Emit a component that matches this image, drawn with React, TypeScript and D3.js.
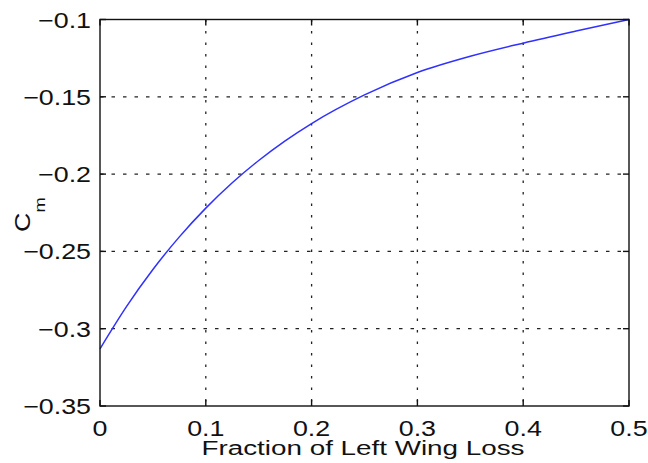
import React from "react";
import * as d3 from "d3";

const fractionLoss = [0, 0.025, 0.05, 0.075, 0.1, 0.125, 0.15, 0.175, 0.2, 0.25, 0.3, 0.35, 0.4, 0.45, 0.5];
const cmValues = [-0.313, -0.2857, -0.2617, -0.2406, -0.222, -0.2056, -0.1912, -0.1785, -0.1673, -0.1488, -0.1343, -0.1238, -0.1153, -0.1075, -0.1];
const xTicks = [0, 0.1, 0.2, 0.3, 0.4, 0.5];
const yTicks = [-0.35, -0.3, -0.25, -0.2, -0.15, -0.1];
const xTickLabels = ["0", "0.1", "0.2", "0.3", "0.4", "0.5"];
const yTickLabels = ["\u22120.35", "\u22120.3", "\u22120.25", "\u22120.2", "\u22120.15", "\u22120.1"];

const W = 648;
const H = 463;
const L = 100, R = 629, T = 19.5, B = 406;
const FONT = "'Liberation Sans', Arial, Helvetica, sans-serif";
const SX = 1.22;

export default function App() {
  const x = d3.scaleLinear().domain([0, 0.5]).range([L, R]);
  const y = d3.scaleLinear().domain([-0.35, -0.1]).range([B, T]);
  const line = d3
    .line<number>()
    .x((_, i) => x(fractionLoss[i]))
    .y((d) => y(d))
    .curve(d3.curveMonotoneX);
  const tickLen = 6;
  const gridColor = "#222";
  return (
    <svg width={W} height={H} style={{ position: "absolute", left: 0, top: 0, background: "#fff" }}>
      <rect x={0} y={0} width={W} height={H} fill="#fff" />
      {/* grid */}
      {xTicks.slice(1, -1).map((t) => (
        <line key={"gx" + t} x1={x(t)} x2={x(t)} y1={T} y2={B} stroke={gridColor} strokeWidth={1.3} strokeDasharray="2.5,9" />
      ))}
      {yTicks.slice(1, -1).map((t) => (
        <line key={"gy" + t} x1={L} x2={R} y1={y(t)} y2={y(t)} stroke={gridColor} strokeWidth={1.3} strokeDasharray="3.5,8" />
      ))}
      {/* curve */}
      <path d={line(cmValues) || ""} fill="none" stroke="#3030ff" strokeWidth={1.5} />
      {/* box */}
      <rect x={L} y={T} width={R - L} height={B - T} fill="none" stroke="#111" strokeWidth={1.4} />
      {/* ticks */}
      {xTicks.map((t) => (
        <g key={"tx" + t}>
          <line x1={x(t)} x2={x(t)} y1={B} y2={B - tickLen} stroke="#111" strokeWidth={1.4} />
          <line x1={x(t)} x2={x(t)} y1={T} y2={T + tickLen} stroke="#111" strokeWidth={1.4} />
        </g>
      ))}
      {yTicks.map((t) => (
        <g key={"ty" + t}>
          <line x1={L} x2={L + tickLen} y1={y(t)} y2={y(t)} stroke="#111" strokeWidth={1.4} />
          <line x1={R} x2={R - tickLen} y1={y(t)} y2={y(t)} stroke="#111" strokeWidth={1.4} />
        </g>
      ))}
      {/* x tick labels */}
      {xTicks.map((t, i) => (
        <g key={"lx" + t} transform={`translate(${x(t)},436) scale(${SX},1)`}>
          <text x={0} y={0} textAnchor="middle" fontFamily={FONT} fontSize={22} fill="#111">
            {xTickLabels[i]}
          </text>
        </g>
      ))}
      {/* y tick labels */}
      {yTicks.map((t, i) => (
        <g key={"ly" + t} transform={`translate(91,${y(t) + 8}) scale(${SX},1)`}>
          <text x={0} y={0} textAnchor="end" fontFamily={FONT} fontSize={22} fill="#111">
            {yTickLabels[i]}
          </text>
        </g>
      ))}
      {/* x label */}
      <text x={363} y={455} textAnchor="middle" fontFamily={FONT} fontSize={20} fill="#111" textLength={323} lengthAdjust="spacingAndGlyphs">
        Fraction of Left Wing Loss
      </text>
      {/* y label */}
      <g transform={`translate(30,232) rotate(-90) scale(${SX},1)`}>
        <text x={0} y={0} fontFamily={FONT} fontSize={22} fill="#111">
          C
          <tspan fontSize={15} dy={15}>m</tspan>
        </text>
      </g>
    </svg>
  );
}
